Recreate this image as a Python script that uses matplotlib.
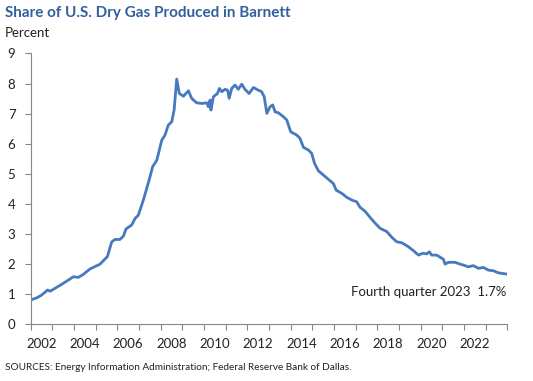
import matplotlib
matplotlib.use("Agg")
import matplotlib.pyplot as plt
from matplotlib.ticker import FixedLocator, FixedFormatter

# share of U.S. dry gas produced in Barnett, percent
years = [2002.0, 2002.28, 2002.5, 2002.78, 2002.9, 2003.04, 2003.5, 2003.97,
         2004.2, 2004.43, 2004.74, 2005.2, 2005.54, 2005.74, 2005.89, 2006.12,
         2006.28, 2006.4, 2006.66, 2006.82, 2006.97, 2007.2, 2007.45, 2007.63,
         2007.82, 2008.05, 2008.2, 2008.35, 2008.51, 2008.62, 2008.74, 2008.86,
         2009.05, 2009.28, 2009.43, 2009.66, 2009.9, 2010.13, 2010.2, 2010.28,
         2010.32, 2010.43, 2010.62, 2010.71, 2010.82, 2010.97, 2011.09, 2011.16,
         2011.28, 2011.43, 2011.58, 2011.74, 2011.89, 2012.08, 2012.28, 2012.51,
         2012.66, 2012.78, 2012.9, 2013.05, 2013.17, 2013.28, 2013.43, 2013.66,
         2013.82, 2014.0, 2014.12, 2014.28, 2014.43, 2014.59, 2014.82, 2014.97,
         2015.1, 2015.28, 2015.51, 2015.82, 2015.97, 2016.1, 2016.36, 2016.59,
         2016.82, 2017.05, 2017.2, 2017.43, 2017.67, 2017.9, 2018.13, 2018.44,
         2018.67, 2018.9, 2019.13, 2019.43, 2019.66, 2019.9, 2020.1, 2020.28,
         2020.4, 2020.51, 2020.74, 2020.9, 2021.05, 2021.13, 2021.28, 2021.59,
         2021.82, 2022.05, 2022.2, 2022.43, 2022.67, 2022.9, 2023.13, 2023.36,
         2023.59, 2023.97]
share = [0.81, 0.88, 0.97, 1.14, 1.10, 1.16, 1.36, 1.58,
         1.56, 1.66, 1.84, 2.00, 2.25, 2.74, 2.82, 2.82,
         2.93, 3.17, 3.30, 3.52, 3.63, 4.13, 4.75, 5.24,
         5.45, 6.12, 6.29, 6.62, 6.73, 7.12, 8.15, 7.67,
         7.58, 7.76, 7.51, 7.36, 7.34, 7.36, 7.23, 7.45,
         7.12, 7.56, 7.67, 7.84, 7.73, 7.81, 7.78, 7.51,
         7.84, 7.95, 7.81, 7.98, 7.81, 7.67, 7.87, 7.78,
         7.73, 7.56, 7.01, 7.23, 7.29, 7.06, 7.03, 6.90,
         6.79, 6.40, 6.35, 6.29, 6.18, 5.88, 5.79, 5.68,
         5.35, 5.10, 4.96, 4.77, 4.68, 4.46, 4.35, 4.22,
         4.13, 4.07, 3.89, 3.76, 3.55, 3.36, 3.19, 3.08,
         2.89, 2.74, 2.71, 2.58, 2.45, 2.30, 2.36, 2.34,
         2.41, 2.30, 2.30, 2.23, 2.16, 2.00, 2.06, 2.06,
         2.00, 1.95, 1.91, 1.95, 1.86, 1.89, 1.80, 1.78,
         1.71, 1.67]

year_labels = ["2002", "2004", "2006", "2008", "2010", "2012",
               "2014", "2016", "2018", "2020", "2022"]
first_year, last_year = 2002, 2024

plt.rcParams["font.family"] = ["Lato", "DejaVu Sans"]

LINE = "#4679BD"
AXIS = "#868686"

fig = plt.figure(figsize=(5.33, 3.81), dpi=100)
ax = fig.add_axes([0.0576, 0.1488, 0.8942, 0.7108])

ax.plot(years, share, color=LINE, lw=2.0, solid_joinstyle="round")

ax.set_xlim(first_year, last_year)
ax.set_ylim(0, 9)
ax.set_yticks(range(0, 10))

# year boundaries as tick marks, labels centred in the year
ax.xaxis.set_major_locator(FixedLocator(range(first_year, last_year + 1)))
ax.xaxis.set_major_formatter(FixedFormatter([""] * (last_year - first_year + 1)))
label_pos = [int(y) + 0.5 for y in year_labels]
ax.xaxis.set_minor_locator(FixedLocator(label_pos))
ax.xaxis.set_minor_formatter(FixedFormatter(year_labels))

ax.tick_params(axis="x", which="major", direction="out", length=4, width=0.8,
               color=AXIS)
ax.tick_params(axis="x", which="minor", length=0, pad=10, labelsize=9.5,
               labelcolor="#222222")
ax.tick_params(axis="y", direction="out", length=4, width=0.8, color=AXIS,
               pad=7, labelsize=9.5, labelcolor="#222222")

for side in ("top", "right"):
    ax.spines[side].set_visible(False)
for side in ("left", "bottom"):
    ax.spines[side].set_color(AXIS)
    ax.spines[side].set_linewidth(0.8)

ax.text(2023.97, 1.08, "Fourth quarter 2023  1.7%", ha="right", va="center",
        fontsize=9.5, color="#222222")

fig.text(5 / 533, 1 - 13 / 381, "Share of U.S. Dry Gas Produced in Barnett",
         ha="left", va="center", fontsize=11, fontweight="bold", color="#31609A")
fig.text(5 / 533, 1 - 33 / 381, "Percent", ha="left", va="center",
         fontsize=9.5, color="#222222")
fig.text(5 / 533, 1 - 368 / 381,
         "SOURCES: Energy Information Administration; Federal Reserve Bank of Dallas.",
         ha="left", va="center", fontsize=7.2, color="#222222")

fig.savefig("out.png", dpi=100)
